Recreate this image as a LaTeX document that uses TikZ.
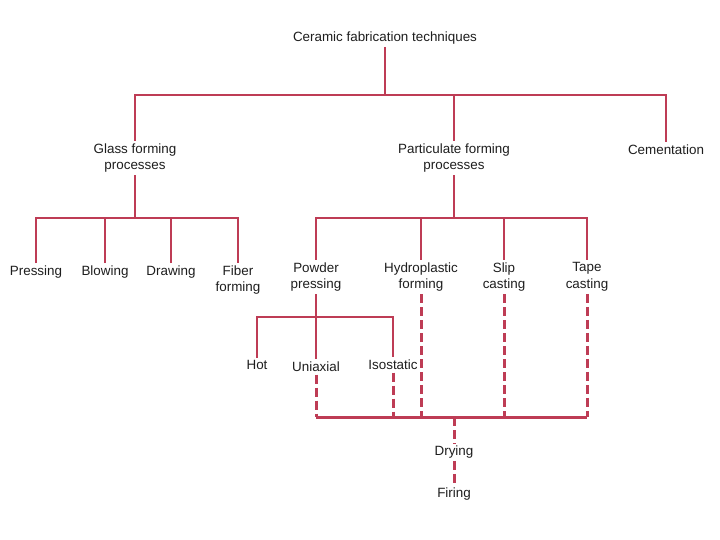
\documentclass[tikz,border=0pt]{standalone}
\usepackage{fontspec}
\setmainfont{Liberation Sans}
\definecolor{lc}{RGB}{190,60,85}
\definecolor{tc}{RGB}{30,30,30}
\begin{document}
\begin{tikzpicture}[x=1pt,y=-1pt,
  lbl/.style={font=\fontsize{13.4}{16.5}\selectfont, text=tc, inner sep=2.5pt, align=center},
  tline/.style={draw=lc, line width=1.6pt},
  dline/.style={draw=lc, line width=3pt, dash pattern=on 9pt off 4pt},
  bline/.style={draw=lc, line width=3pt}]
\useasboundingbox (0,0) rectangle (720,540);
\fill[white] (0,0) rectangle (720,540);
% nodes
\node[lbl] (ceramic) at (385,38) {Ceramic fabrication techniques};
\node[lbl] (glass) at (135,158) {Glass forming\\processes};
\node[lbl] (part) at (454,158) {Particulate forming\\processes};
\node[lbl] (cement) at (666,150) {Cementation};
\node[lbl] (pressing) at (36,272) {Pressing};
\node[lbl] (blowing) at (105,272) {Blowing};
\node[lbl] (drawing) at (171,272) {Drawing};
\node[lbl] (fiber) at (238,280) {Fiber\\forming};
\node[lbl] (powder) at (316,277) {Powder\\pressing};
\node[lbl] (hydro) at (421,277) {Hydroplastic\\forming};
\node[lbl] (slip) at (504,277) {Slip\\casting};
\node[lbl] (tape) at (587,277) {Tape\\casting};
\node[lbl] (hot) at (257,365) {Hot};
\node[lbl] (uni) at (316,367) {Uniaxial};
\node[lbl] (iso) at (393,365) {Isostatic};
\node[lbl] (drying) at (454,452) {Drying};
\node[lbl] (firing) at (454,494) {Firing};
% junctions
\coordinate (b1) at (385,95);
\coordinate (b2) at (135,218);
\coordinate (b3) at (454,218);
\coordinate (b4) at (316,317);
\coordinate (bus) at (454,417);
% solid tree
\draw[tline] (ceramic.south) -- (b1);
\draw[tline] (glass.north) -- (glass.north |- b1) -- (cement.north |- b1) -- (cement.north);
\draw[tline] (part.north) -- (part.north |- b1);
\draw[tline] (glass.south) -- (b2);
\draw[tline] (pressing.north) -- (pressing.north |- b2) -- (fiber.north |- b2) -- (fiber.north);
\draw[tline] (blowing.north) -- (blowing.north |- b2);
\draw[tline] (drawing.north) -- (drawing.north |- b2);
\draw[tline] (part.south) -- (b3);
\draw[tline] (powder.north) -- (powder.north |- b3) -- (tape.north |- b3) -- (tape.north);
\draw[tline] (hydro.north) -- (hydro.north |- b3);
\draw[tline] (slip.north) -- (slip.north |- b3);
\draw[tline] (powder.south) -- (uni.north);
\draw[tline] (hot.north) -- (hot.north |- b4) -- (iso.north |- b4) -- (iso.north);
% dashed
\draw[dline] (uni.south) -- (uni.south |- bus);
\draw[dline] (iso.south) -- (iso.south |- bus);
\draw[dline] (hydro.south) -- (hydro.south |- bus);
\draw[dline] (slip.south) -- (slip.south |- bus);
\draw[dline] (tape.south) -- (tape.south |- bus);
\draw[bline] (uni.south |- bus) -- (tape.south |- bus);
\draw[dline] (bus) -- (drying.north);
\draw[dline] (drying.south) -- (firing.north);
\end{tikzpicture}
\end{document}
